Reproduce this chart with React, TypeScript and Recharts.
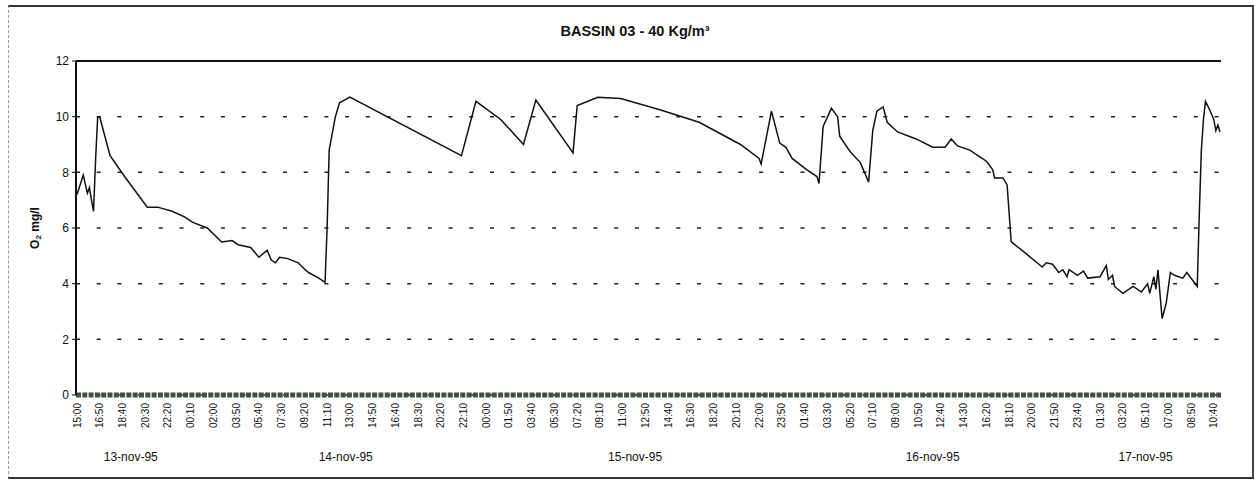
import { LineChart, Line, XAxis, YAxis, CartesianGrid, ReferenceLine } from 'recharts'

const FONT = '"Liberation Sans", Arial, sans-serif'

// x-axis labels, one every 110 minutes from 13-nov-95 15:00
const timeLabels = [
  '15:00', '16:50', '18:40', '20:30', '22:20', '00:10', '02:00', '03:50', '05:40', '07:30',
  '09:20', '11:10', '13:00', '14:50', '16:40', '18:30', '20:20', '22:10', '00:00', '01:50',
  '03:40', '05:30', '07:20', '09:10', '11:00', '12:50', '14:40', '16:30', '18:20', '20:10',
  '22:00', '23:50', '01:40', '03:30', '05:20', '07:10', '09:00', '10:50', '12:40', '14:30',
  '16:20', '18:10', '20:00', '21:50', '23:40', '01:30', '03:20', '05:10', '07:00', '08:50',
  '10:40',
]
const tickStep = 110

const dayLabels = ['13-nov-95', '14-nov-95', '15-nov-95', '16-nov-95', '17-nov-95']
// minutes from start where each date label sits
const dayCenters = [260, 1300, 2700, 4140, 5170]

const yTicks = [0, 2, 4, 6, 8, 10, 12]

// minutes since 13-nov-95 15:00
const minutes = [
  0, 30, 50, 60, 70, 80, 90, 100, 110, 120, 160, 230, 290, 340, 390, 460, 520, 560, 630, 700,
  750, 780, 840, 880, 920, 940, 960, 980, 1020, 1070, 1090, 1120, 1170, 1200, 1210, 1220, 1250, 1270, 1320, 1860,
  1930, 2050, 2160, 2220, 2400, 2420, 2520, 2630, 2820, 3010, 3210, 3300, 3310, 3360, 3400, 3430, 3460, 3530, 3580, 3590,
  3610, 3650, 3680, 3690, 3740, 3790, 3830, 3850, 3870, 3900, 3920, 3970, 4060, 4140, 4200, 4230, 4260, 4320, 4370, 4400,
  4430, 4440, 4480, 4500, 4520, 4580, 4670, 4690, 4720, 4750, 4770, 4790, 4800, 4840, 4870, 4890, 4950, 4980, 4990, 5010,
  5020, 5060, 5110, 5150, 5180, 5190, 5210, 5220, 5230, 5250, 5270, 5290, 5310, 5350, 5370, 5420, 5430, 5440, 5450, 5460,
  5480, 5500, 5510, 5520, 5530,
]
// dissolved oxygen, mg/l
const o2 = [
  7.2, 7.9, 7.25, 7.45, 7.0, 6.6, 8.5, 10.0, 10.0, 9.7, 8.6, 7.85, 7.25, 6.75, 6.75, 6.6, 6.4, 6.2, 6.0, 5.5,
  5.55, 5.4, 5.3, 4.95, 5.2, 4.85, 4.75, 4.95, 4.9, 4.75, 4.6, 4.4, 4.2, 4.05, 6.0, 8.8, 10.0, 10.5, 10.7, 8.6,
  10.55, 9.9, 9.0, 10.6, 8.7, 10.4, 10.7, 10.65, 10.25, 9.8, 9.0, 8.5, 8.3, 10.2, 9.05, 8.9, 8.5, 8.1, 7.85, 7.6,
  9.65, 10.3, 10.0, 9.3, 8.75, 8.35, 7.65, 9.5, 10.2, 10.35, 9.8, 9.45, 9.2, 8.9, 8.9, 9.2, 8.95, 8.8, 8.55, 8.4,
  8.1, 7.8, 7.8, 7.55, 5.5, 5.15, 4.6, 4.75, 4.7, 4.4, 4.5, 4.25, 4.5, 4.3, 4.45, 4.2, 4.25, 4.65, 4.15, 4.3,
  3.9, 3.65, 3.9, 3.7, 4.0, 3.65, 4.25, 3.8, 4.5, 2.75, 3.3, 4.4, 4.3, 4.2, 4.4, 3.9, 6.5, 8.8, 9.9, 10.55,
  10.25, 9.9, 9.5, 9.7, 9.45,
]

const data = minutes.map((t, i) => ({ t, v: o2[i] }))
const timeTicks = timeLabels.map((_, i) => i * tickStep)

function TimeTick({ x, y, payload }: any) {
  const label = timeLabels[Math.round(payload.value / tickStep)]
  return (
    <text
      x={x}
      y={y}
      transform={`rotate(-90, ${x}, ${y})`}
      textAnchor="end"
      dominantBaseline="central"
      fontSize={10}
      fontFamily={FONT}
      fill="#111"
    >
      {label}
    </text>
  )
}

function DayTick({ x, y, payload }: any) {
  const i = dayCenters.indexOf(payload.value)
  return (
    <text x={x} y={y} dy="0.71em" textAnchor="middle" fontSize={12} fontFamily={FONT} fill="#111">
      {dayLabels[i]}
    </text>
  )
}

function YLabel({ viewBox }: any) {
  const cx = viewBox.x + 19
  const cy = viewBox.y + viewBox.height / 2
  return (
    <text
      x={cx}
      y={cy}
      transform={`rotate(-90, ${cx}, ${cy})`}
      textAnchor="middle"
      dominantBaseline="central"
      fontSize={12}
      fontWeight="bold"
      fontFamily={FONT}
      fill="#111"
    >
      O<tspan fontSize={8} dy={3}>2</tspan>
      <tspan dy={-3}> mg/l</tspan>
    </text>
  )
}

export default function App() {
  return (
    <div style={{ position: 'absolute', left: 0, top: 0, width: 1255, height: 481, background: '#fff' }}>
      <div
        style={{
          position: 'absolute',
          left: 8,
          top: 5,
          width: 1243,
          height: 470,
          borderTop: '2px solid #333',
          borderBottom: '2px solid #333',
          borderRight: '2px solid #444',
          borderLeft: '1px dashed #999',
        }}
      />
      <div
        style={{
          position: 'absolute',
          left: 435,
          width: 400,
          top: 23,
          textAlign: 'center',
          fontFamily: FONT,
          fontWeight: 'bold',
          fontSize: 14.5,
          color: '#111',
        }}
      >
        BASSIN 03 - 40 Kg/m³
      </div>
      <div style={{ position: 'absolute', left: 0, top: 0 }}>
        <LineChart width={1255} height={481} data={data} margin={{ top: 61, right: 34, bottom: 4, left: 16 }}>
          <CartesianGrid xAxisId="t1" vertical={false} stroke="#222" strokeWidth={1.5} strokeDasharray="4 16.7" />
          <XAxis
            xAxisId="t1"
            dataKey="t"
            type="number"
            domain={[-5, 5535]}
            allowDataOverflow
            ticks={timeTicks}
            interval={0}
            height={57}
            tickSize={0}
            tickMargin={8}
            tickLine={false}
            axisLine={{ stroke: '#3f503f', strokeWidth: 5, strokeDasharray: '5 1.3' }}
            tick={<TimeTick />}
          />
          <XAxis
            xAxisId="t2"
            dataKey="t"
            type="number"
            domain={[-5, 5535]}
            allowDataOverflow
            ticks={dayCenters}
            interval={0}
            height={25}
            tickSize={0}
            tickMargin={0}
            tickLine={false}
            axisLine={false}
            tick={<DayTick />}
          />
          <YAxis
            domain={[0, 12]}
            ticks={yTicks}
            interval={0}
            width={60}
            tickSize={4}
            tickMargin={3}
            axisLine={{ stroke: '#111', strokeWidth: 2 }}
            tickLine={{ stroke: '#111' }}
            tick={{ fontSize: 12, fontFamily: FONT, fill: '#111' }}
            label={<YLabel />}
          />
          <YAxis
            yAxisId="right"
            orientation="right"
            domain={[0, 12]}
            width={0}
            tick={false}
            tickLine={false}
            axisLine={{ stroke: '#111', strokeWidth: 2 }}
          />
          <ReferenceLine y={12} xAxisId="t1" stroke="#111" strokeWidth={2} />
          <Line
            xAxisId="t1"
            dataKey="v"
            type="linear"
            stroke="#111"
            strokeWidth={1.5}
            dot={false}
            isAnimationActive={false}
          />
        </LineChart>
      </div>
    </div>
  )
}
